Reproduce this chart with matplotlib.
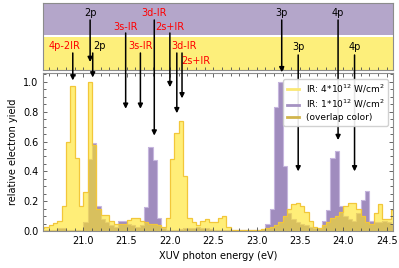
import numpy as np
import matplotlib
matplotlib.use('Agg')
import matplotlib.pyplot as plt
from matplotlib.lines import Line2D
from matplotlib.ticker import MultipleLocator

# IR 4e12 W/cm2 (yellow), 0.05 eV bins starting at 20.50 eV
yield_4e12 = [0.02, 0.025, 0.04, 0.055, 0.065, 0.17, 0.60, 0.97, 0.49, 0.17,
              0.26, 1.00, 0.575, 0.15, 0.105, 0.11, 0.07, 0.05, 0.05, 0.05,
              0.075, 0.09, 0.085, 0.07, 0.06, 0.05, 0.045, 0.04, 0.025, 0.09,
              0.485, 0.66, 0.735, 0.37, 0.09, 0.06, 0.04, 0.07, 0.08, 0.06,
              0.06, 0.09, 0.10, 0.03, 0.01, 0.01, 0.01, 0.01, 0.01, 0.01,
              0.01, 0.015, 0.02, 0.03, 0.04, 0.06, 0.10, 0.15, 0.18, 0.19,
              0.17, 0.125, 0.07, 0.03, 0.02, 0.04, 0.06, 0.09, 0.10, 0.13,
              0.17, 0.19, 0.19, 0.15, 0.10, 0.06, 0.05, 0.12, 0.18, 0.08,
              0.08, 0.14]
# IR 1e12 W/cm2 (purple)
yield_1e12 = [0.005, 0.005, 0.005, 0.01, 0.02, 0.02, 0.01, 0.005, 0.005, 0.01,
              0.06, 0.48, 0.59, 0.17, 0.08, 0.06, 0.04, 0.03, 0.065, 0.065,
              0.05, 0.04, 0.03, 0.04, 0.16, 0.565, 0.475, 0.085, 0.02, 0.01,
              0.01, 0.01, 0.015, 0.02, 0.02, 0.02, 0.025, 0.02, 0.02, 0.015,
              0.01, 0.01, 0.01, 0.008, 0.008, 0.008, 0.008, 0.008, 0.008, 0.008,
              0.008, 0.015, 0.045, 0.145, 0.835, 1.00, 0.435, 0.12, 0.08, 0.06,
              0.05, 0.04, 0.03, 0.02, 0.02, 0.065, 0.14, 0.49, 0.54, 0.17,
              0.10, 0.08, 0.07, 0.12, 0.205, 0.27, 0.07, 0.06, 0.06, 0.07,
              0.06, 0.05]
edges = np.round(20.50 + 0.05 * np.arange(len(yield_4e12) + 1), 2)

# labels: (text, color, x text, y text [px from top], x arrow, arrow start [px], tip)
labels_1e12 = [
    ("2p", "black", 21.08, 13, 21.08, 20, None),
    ("3d-IR", "red", 21.82, 13, 21.82, 20, 0.64),
    ("3s-IR", "red", 21.49, 27, 21.49, 33, 0.82),
    ("2s+IR", "red", 22.00, 27, 22.00, 33, 0.965),
    ("3p", "black", 23.29, 13, 23.29, 20, 1.065),
    ("4p", "black", 23.94, 13, 23.94, 20, 0.61),
]
labels_4e12 = [
    ("4p-2IR", "red", 20.79, 46, 20.88, 53, 1.01),
    ("2p", "black", 21.19, 46, 21.11, 53, 1.03),
    ("3s-IR", "red", 21.66, 46, 21.66, 53, 0.82),
    ("3d-IR", "red", 22.16, 46, 22.08, 53, 0.79),
    ("2s+IR", "red", 22.30, 61, 22.14, 53, 0.89),
    ("3p", "black", 23.48, 47, 23.48, 55, 0.40),
    ("4p", "black", 24.13, 47, 24.13, 55, 0.40),
]

W, H = 399, 268
fig = plt.figure(figsize=(W / 100, H / 100), dpi=100)
top_px, top_bot_px = 3, 70
main_top_px, main_bot_px = 73, 231
left, right = 43.3 / W, 392.7 / W
ax_top = fig.add_axes([left, 1 - top_bot_px / H, right - left, (top_bot_px - top_px) / H])
ax = fig.add_axes([left, 1 - main_bot_px / H, right - left, (main_bot_px - main_top_px) / H])

xlim = (20.54, 24.57)
frame = '0.55'

# top panel bands
ax_top.set_xlim(*xlim)
ax_top.set_ylim(0, 1)
ax_top.axhspan(0.515, 1, color='#b4a6ca', lw=0)
ax_top.axhspan(0, 0.5, color='#fdef7b', lw=0)
ax_top.set_yticks([])
ax_top.xaxis.set_major_locator(MultipleLocator(0.5))
ax_top.xaxis.set_minor_locator(MultipleLocator(0.1))
ax_top.tick_params(axis='x', which='both', direction='in', labelbottom=False,
                   length=2.5, width=0.6, color='0.3')
for s in ax_top.spines.values():
    s.set_color(frame)

# histograms
ax.stairs(yield_1e12, edges, fill=True, color='#a08cbe', lw=0)
ax.stairs(yield_1e12, edges, color='#c6b6de', lw=0.8)
ax.stairs(yield_4e12, edges, fill=True, color='#ffe31e', alpha=0.6, lw=0)
ax.stairs(yield_4e12, edges, color='#f2c73a', lw=0.9)

ax.set_xlim(*xlim)
ax.set_ylim(0, 1.06)
ax.xaxis.set_major_locator(MultipleLocator(0.5))
ax.xaxis.set_minor_locator(MultipleLocator(0.1))
ax.yaxis.set_major_locator(MultipleLocator(0.2))
ax.yaxis.set_minor_locator(MultipleLocator(0.05))
ax.xaxis.set_major_formatter(matplotlib.ticker.FormatStrFormatter('%.1f'))
ax.yaxis.set_major_formatter(matplotlib.ticker.FormatStrFormatter('%.1f'))
ax.tick_params(which='both', direction='in', top=True, right=True,
               labelsize=7, width=0.6, color='0.3')
ax.tick_params(which='major', length=3)
ax.tick_params(which='minor', length=2)
for s in ax.spines.values():
    s.set_color(frame)
ax.set_xlabel('XUV photon energy (eV)', fontsize=7)
ax.set_ylabel('relative electron yield', fontsize=7)

handles = [Line2D([], [], color='#fbe874', lw=2),
           Line2D([], [], color='#a592c2', lw=2),
           Line2D([], [], color='#d1b54d', lw=2)]
ax.legend(handles, ['IR: 4*10$^{12}$ W/cm$^2$', 'IR: 1*10$^{12}$ W/cm$^2$', '(overlap color)'],
          loc='upper right', fontsize=6.5, handlelength=1.3, borderpad=0.4,
          labelspacing=0.3, framealpha=0.9, bbox_to_anchor=(1.0, 0.99))

tr_top = ax_top.get_xaxis_transform()


def frac(px):
    return (top_bot_px - px) / (top_bot_px - top_px)


for text, col, xt, yt, xa, ya, tip in labels_1e12 + labels_4e12:
    ax_top.text(xt, frac(yt), text, color=col, fontsize=7, ha='center', va='center',
                transform=tr_top)
    if tip is None:
        xy, xycoords = (xa, frac(62)), tr_top
    else:
        xy, xycoords = (xa, tip), 'data'
    ax.annotate('', xy=xy, xycoords=xycoords, xytext=(xa, frac(ya)), textcoords=tr_top,
                annotation_clip=False,
                arrowprops=dict(arrowstyle='-|>', color='black', lw=1.1,
                                mutation_scale=7, shrinkA=0, shrinkB=0))

fig.savefig('out.png', dpi=100)
